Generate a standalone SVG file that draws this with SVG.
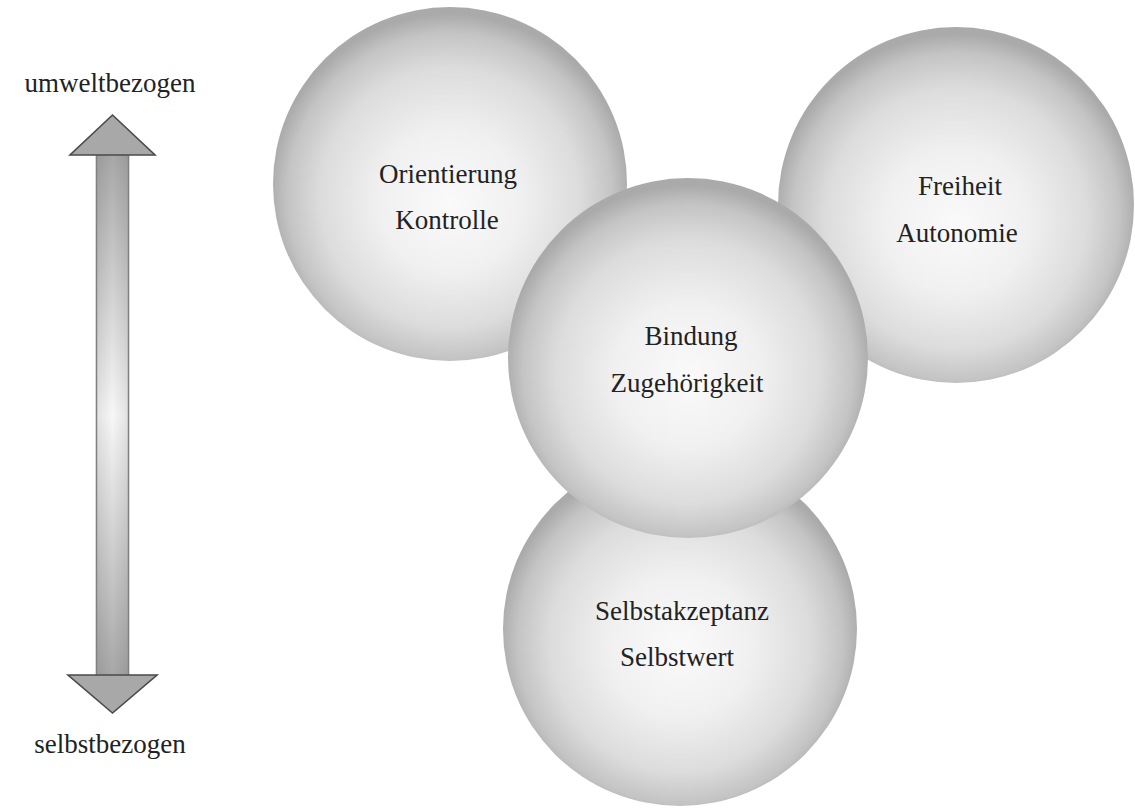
<svg xmlns="http://www.w3.org/2000/svg" width="1135" height="808" viewBox="0 0 1135 808">
  <defs>
    <radialGradient id="sphere" cx="50%" cy="53%" r="51%" fx="50%" fy="56%">
      <stop offset="0%" stop-color="#fafafa"/>
      <stop offset="40%" stop-color="#f0f0f0"/>
      <stop offset="72%" stop-color="#dcdcdc"/>
      <stop offset="90%" stop-color="#c4c4c4"/>
      <stop offset="100%" stop-color="#aaaaaa"/>
    </radialGradient>
    <linearGradient id="shaft" x1="0" y1="155" x2="0" y2="675" gradientUnits="userSpaceOnUse">
      <stop offset="0%" stop-color="#a8a8a8"/>
      <stop offset="50%" stop-color="#f7f7f7"/>
      <stop offset="100%" stop-color="#a8a8a8"/>
    </linearGradient>
    <linearGradient id="shaftH" x1="0" y1="0" x2="1" y2="0">
      <stop offset="0%" stop-color="#000" stop-opacity="0.08"/>
      <stop offset="50%" stop-color="#000" stop-opacity="0"/>
      <stop offset="100%" stop-color="#000" stop-opacity="0.08"/>
    </linearGradient>
  </defs>
  <style>
    .sphere { fill: url(#sphere); }
    .lbl { font-family: "Liberation Serif", "DejaVu Serif", serif; font-size: 27px; fill: #222; text-anchor: middle; }
    .head { fill: #a8a8a8; stroke: #4a4a4a; stroke-width: 1.6; stroke-linejoin: miter; }
    .shaft { fill: url(#shaft); stroke: #808080; stroke-width: 1.6; }
  </style>
  <rect width="1135" height="808" fill="#ffffff"/>

  <g id="axis">
    <rect class="shaft" x="96.5" y="154" width="32" height="522"/>
    <rect x="97.5" y="154" width="30" height="522" fill="url(#shaftH)"/>
    <polygon class="head" points="112.5,115 70,155 155,155"/>
    <polygon class="head" points="68,675 157,675 112.5,713"/>
    <text class="lbl" x="110" y="92">umweltbezogen</text>
    <text class="lbl" x="110" y="753">selbstbezogen</text>
  </g>

  <g id="node-orientierung">
    <circle class="sphere" cx="450" cy="184" r="177"/>
    <text class="lbl" x="448" y="183">Orientierung</text>
    <text class="lbl" x="447" y="229">Kontrolle</text>
  </g>

  <g id="node-freiheit">
    <circle class="sphere" cx="956" cy="205" r="178"/>
    <text class="lbl" x="960" y="195">Freiheit</text>
    <text class="lbl" x="957" y="242">Autonomie</text>
  </g>

  <g id="node-selbst">
    <circle class="sphere" cx="680" cy="629" r="177"/>
    <text class="lbl" x="682" y="620">Selbstakzeptanz</text>
    <text class="lbl" x="677" y="666">Selbstwert</text>
  </g>

  <g id="node-bindung">
    <circle class="sphere" cx="688" cy="358" r="180"/>
    <text class="lbl" x="691" y="345">Bindung</text>
    <text class="lbl" x="687" y="392">Zugehörigkeit</text>
  </g>

  <g id="connectors"></g>
</svg>
